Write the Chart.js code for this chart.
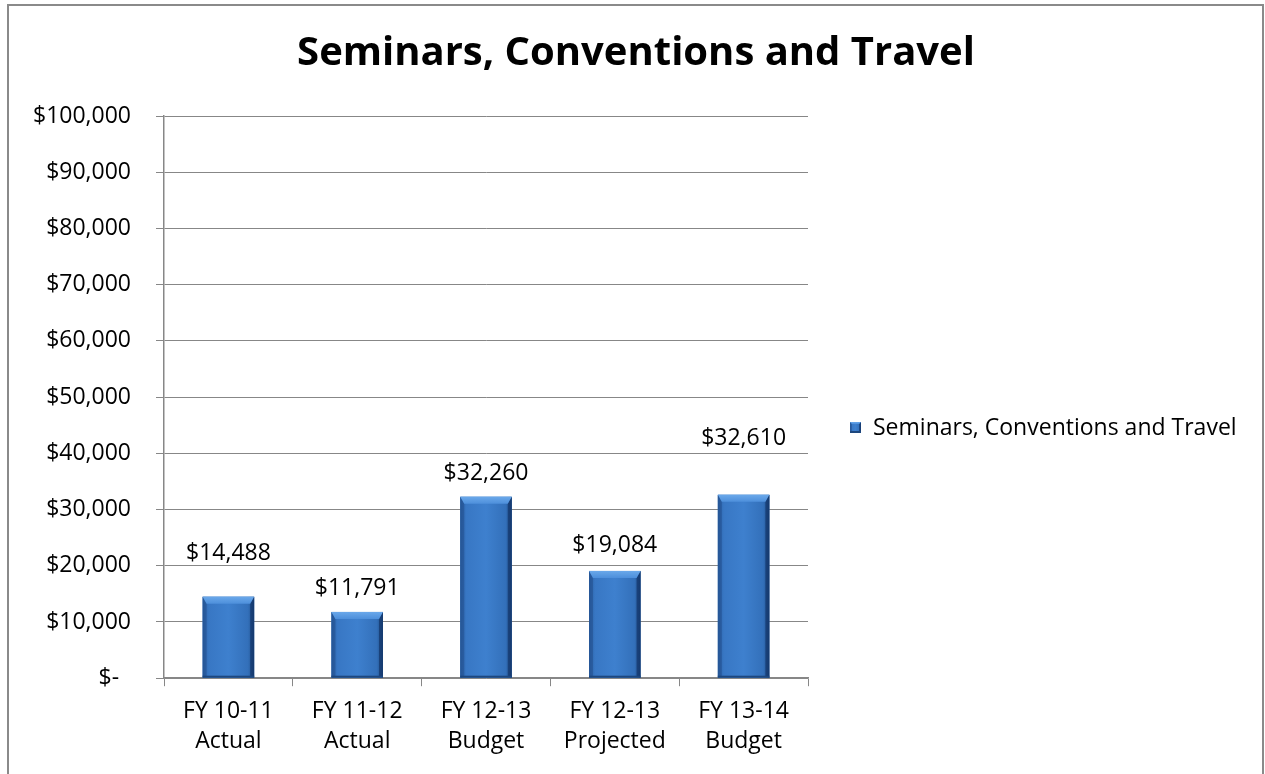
<!DOCTYPE html>
<html>
<head>
<meta charset="utf-8">
<title>Seminars, Conventions and Travel</title>
<script src="https://cdn.jsdelivr.net/npm/chart.js@4.4.0/dist/chart.umd.min.js"></script>
<style>
  html, body { margin: 0; padding: 0; background: #fff; }
  #wrap { width: 1265px; height: 774px; }
</style>
</head>
<body>
<div id="wrap"><canvas id="myChart" width="1265" height="774"></canvas></div>
<script>
var chartTitle = 'Seminars, Conventions and Travel';
var seriesName = 'Seminars, Conventions and Travel';
var categories = [
  ['FY 10-11', 'Actual'],
  ['FY 11-12', 'Actual'],
  ['FY 12-13', 'Budget'],
  ['FY 12-13', 'Projected'],
  ['FY 13-14', 'Budget']
];
var amounts = [14488, 11791, 32260, 19084, 32610];
var yTicks = [0, 10000, 20000, 30000, 40000, 50000, 60000, 70000, 80000, 90000, 100000];

// how far each value label sits above its bar (px), labels were moved by hand in the original
var labelLift = [37, 17, 17, 19, 50];

var FONT = '"Open Sans", "Liberation Sans", sans-serif';
var GRID = '#878787';

function money(v) {
  if (v === 0) return '$-  ';   // accounting style, dash sits left of the digits column
  return '$' + v.toLocaleString('en-US');
}

function bevelBox(ctx, l, t, r, b, bv, sd) {
  var g = ctx.createLinearGradient(l, 0, r, 0);
  g.addColorStop(0, '#2b62a6');
  g.addColorStop(0.12, '#3877c4');
  g.addColorStop(0.5, '#3e80ce');
  g.addColorStop(0.88, '#3370ba');
  g.addColorStop(1, '#1f4c86');
  ctx.fillStyle = g;
  ctx.fillRect(l, t, r - l, b - t);

  // left side
  ctx.fillStyle = 'rgba(30,70,130,0.45)';
  ctx.beginPath();
  ctx.moveTo(l, t); ctx.lineTo(l + sd, t + bv); ctx.lineTo(l + sd, b - 2); ctx.lineTo(l, b);
  ctx.closePath(); ctx.fill();
  // right side
  ctx.fillStyle = 'rgba(15,45,95,0.6)';
  ctx.beginPath();
  ctx.moveTo(r, t); ctx.lineTo(r - sd, t + bv); ctx.lineTo(r - sd, b - 2); ctx.lineTo(r, b);
  ctx.closePath(); ctx.fill();
  // top bevel
  var tg = ctx.createLinearGradient(0, t, 0, t + bv);
  tg.addColorStop(0, '#6aa8ea');
  tg.addColorStop(1, '#4d8fdb');
  ctx.fillStyle = tg;
  ctx.beginPath();
  ctx.moveTo(l, t); ctx.lineTo(r, t); ctx.lineTo(r - sd, t + bv); ctx.lineTo(l + sd, t + bv);
  ctx.closePath(); ctx.fill();
  // bottom edge
  ctx.fillStyle = '#1d477e';
  ctx.fillRect(l, b - 2, r - l, 2);
}

// outer frame of the chart object
var framePlugin = {
  id: 'frame',
  beforeDraw: function (chart) {
    var ctx = chart.ctx;
    ctx.save();
    ctx.fillStyle = '#fff';
    ctx.fillRect(0, 0, chart.width, chart.height);
    ctx.strokeStyle = '#8a8a8a';
    ctx.lineWidth = 2;
    ctx.beginPath();
    ctx.moveTo(8, chart.height + 5);
    ctx.lineTo(8, 5);
    ctx.lineTo(1263, 5);
    ctx.lineTo(1263, chart.height + 5);
    ctx.stroke();
    ctx.restore();
  }
};

// bevelled bars + value labels
var barLookPlugin = {
  id: 'barLook',
  afterDatasetsDraw: function (chart) {
    var ctx = chart.ctx;
    var meta = chart.getDatasetMeta(0);
    meta.data.forEach(function (bar, i) {
      var p = bar.getProps(['x', 'y', 'base', 'width'], true);
      ctx.save();
      bevelBox(ctx, p.x - p.width / 2, p.y, p.x + p.width / 2, p.base, 7, 4);
      ctx.fillStyle = '#000';
      ctx.font = '23px ' + FONT;
      ctx.textAlign = 'center';
      ctx.textBaseline = 'alphabetic';
      ctx.fillText(money(amounts[i]), p.x, p.y - labelLift[i]);
      ctx.restore();
    });
  }
};

// legend sits right of the plot, the built-in one is too narrow for this long name
var sideLegend = {
  id: 'sideLegend',
  afterDraw: function (chart) {
    var ctx = chart.ctx;
    var area = chart.chartArea;
    var x = area.right + 42;
    var y = 428;
    ctx.save();
    bevelBox(ctx, x, y - 6, x + 11, y + 5, 2, 2);
    ctx.fillStyle = '#000';
    ctx.font = '23px ' + FONT;
    ctx.textAlign = 'left';
    ctx.textBaseline = 'middle';
    ctx.fillText(seriesName, x + 23, y);
    ctx.restore();
  }
};

var ctx = document.getElementById('myChart').getContext('2d');
var myChart = new Chart(ctx, {
  type: 'bar',
  data: {
    labels: categories,
    datasets: [{
      label: seriesName,
      data: amounts,
      backgroundColor: '#3b7bc6',
      borderWidth: 0,
      categoryPercentage: 1,
      barPercentage: 0.4
    }]
  },
  options: {
    responsive: false,
    animation: false,
    layout: { padding: { left: 8, right: 1, top: 0, bottom: 8 } },
    plugins: {
      title: {
        display: true,
        text: chartTitle,
        color: '#000',
        font: { family: FONT, size: 40, weight: 'bold' },
        padding: { top: 30, bottom: 38 }
      },
      legend: { display: false },
      tooltip: { enabled: false }
    },
    scales: {
      x: {
        offset: true,
        grid: {
          display: true,
          drawOnChartArea: false,
          drawTicks: true,
          tickLength: 8,
          color: GRID,
          offset: true
        },
        border: { color: GRID, width: 1.5 },
        ticks: {
          color: '#000',
          font: { family: FONT, size: 23, lineHeight: 1.3 },
          padding: 10,
          maxRotation: 0,
          autoSkip: false
        }
      },
      y: {
        min: 0,
        max: 100000,
        afterBuildTicks: function (axis) {
          axis.ticks = yTicks.map(function (v) { return { value: v }; });
        },
        grid: {
          color: GRID,
          tickLength: 8,
          lineWidth: 1
        },
        border: { color: GRID, width: 1.5 },
        ticks: {
          color: '#000',
          font: { family: FONT, size: 23 },
          padding: 25,
          callback: function (v) { return money(v); }
        }
      },
      // empty column on the right that leaves room for the legend
      legendSpace: {
        type: 'linear',
        position: 'right',
        display: true,
        grid: { display: false },
        border: { display: false },
        ticks: { display: false },
        afterFit: function (axis) { axis.width = 456; }
      }
    }
  },
  plugins: [framePlugin, barLookPlugin, sideLegend]
});
</script>
</body>
</html>
